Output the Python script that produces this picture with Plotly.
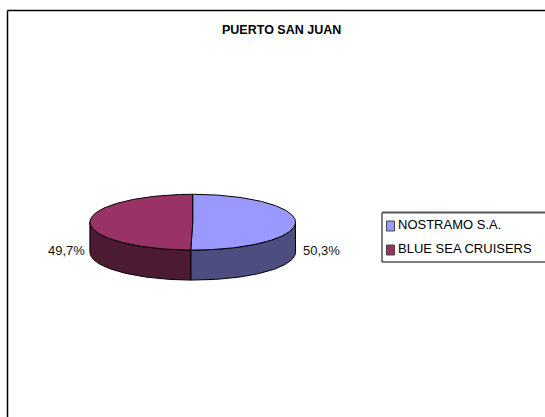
import numpy as np
import plotly.graph_objects as go

# Chart content
title = "PUERTO SAN JUAN"
companies = ["NOSTRAMO S.A.", "BLUE SEA CRUISERS"]
shares = [50.3, 49.7]
share_labels = ["50,3%", "49,7%"]
top_colors = ["#9999FF", "#993366"]
side_colors = ["#4D4D80", "#4D1A33"]

# Geometry of the tilted disc on the 545x417 page
CX, CY, RX, RY, DEPTH = 192.7, 222.2, 102.8, 27.9, 30
FONT = "Liberation Sans, Arial, sans-serif"
INK = "#000000"


def rim(a0, a1, n=80):
    """Ellipse points, with angles measured clockwise from twelve o'clock."""
    t = np.radians(np.linspace(a0, a1, n))
    return CX + RX * np.sin(t), CY - RY * np.cos(t)


fig = go.Figure()

# Slice spans in degrees, running clockwise from the top
edges = np.concatenate([[0], np.cumsum(shares) / sum(shares) * 360])

# Visible side walls: only the front half of the rim (90 to 270 degrees)
for i in range(len(shares)):
    a0, a1 = max(edges[i], 90), min(edges[i + 1], 270)
    x, y = rim(a0, a1)
    fig.add_trace(go.Scatter(
        x=np.concatenate([x, x[::-1], x[:1]]),
        y=np.concatenate([y, y[::-1] + DEPTH, y[:1]]),
        mode="lines", fill="toself", fillcolor=side_colors[i],
        line=dict(color=INK, width=1), hoverinfo="skip", showlegend=False,
    ))

# Top faces
for i in range(len(shares)):
    x, y = rim(edges[i], edges[i + 1], 160)
    fig.add_trace(go.Scatter(
        x=np.concatenate([[CX], x, [CX]]),
        y=np.concatenate([[CY], y, [CY]]),
        mode="lines", fill="toself", fillcolor=top_colors[i],
        line=dict(color=INK, width=1), hoverinfo="skip", showlegend=False,
    ))

# Percentage labels either side of the disc
for label, px, py in zip(share_labels, [321, 66], [250, 250]):
    fig.add_annotation(x=px, y=py, text=label, showarrow=False,
                       xanchor="center", yanchor="middle",
                       font=dict(family=FONT, size=13, color="#111111"))

# Hand-built legend box, running off the right edge of the page
LEG_X0, LEG_X1, LEG_Y0, LEG_Y1 = 382, 550, 212.5, 262
shapes = [
    # Outer chart frame: only its top and left edges fall on the page
    dict(type="line", x0=7.5, x1=545, y0=10.5, y1=10.5, line=dict(color=INK, width=1.5)),
    dict(type="line", x0=7.5, x1=7.5, y0=10.5, y1=417, line=dict(color=INK, width=1.5)),
    dict(type="rect", x0=LEG_X0, x1=LEG_X1, y0=LEG_Y0, y1=LEG_Y1,
         line=dict(color=INK, width=1), fillcolor="#FFFFFF", layer="below"),
    dict(type="line", x0=LEG_X0, x1=LEG_X1, y0=LEG_Y0, y1=LEG_Y0,
         line=dict(color="#555555", width=2)),
]
for i, name in enumerate(companies):
    ym = 226 + i * 24
    shapes.append(dict(type="rect", x0=386.5, x1=394.5, y0=ym - 5, y1=ym + 5,
                       line=dict(color="#444444", width=1), fillcolor=top_colors[i]))
    fig.add_annotation(x=396, y=ym - 2, text=name, showarrow=False, xanchor="left",
                       yanchor="middle", font=dict(family=FONT, size=13, color=INK))

fig.add_annotation(x=281, y=30, text=f"<b>{title}</b>", showarrow=False,
                   xanchor="center", yanchor="middle",
                   font=dict(family=FONT, size=12.5, color=INK))

fig.update_layout(
    width=545, height=417, margin=dict(l=0, r=0, t=0, b=0),
    paper_bgcolor="#FFFFFF", plot_bgcolor="#FFFFFF", shapes=shapes, showlegend=False,
    xaxis=dict(range=[0, 545], visible=False, fixedrange=True),
    yaxis=dict(range=[417, 0], visible=False, fixedrange=True),
)

fig.write_html("out.html", config={"displayModeBar": False})
